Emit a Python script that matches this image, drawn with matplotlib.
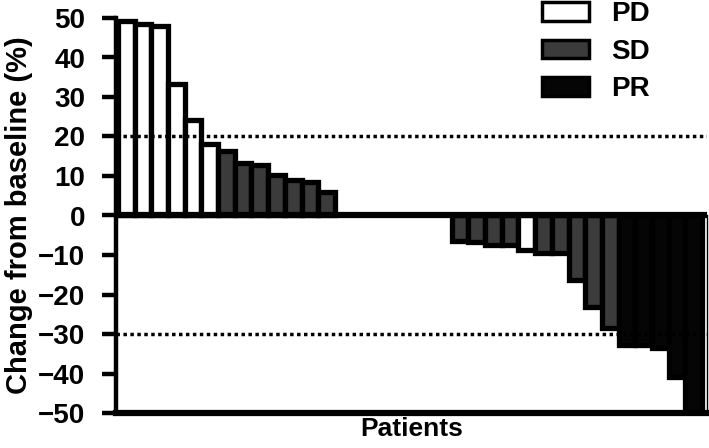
import numpy as np
import matplotlib
matplotlib.use('Agg')
import matplotlib.pyplot as plt
from matplotlib.patches import Patch

plt.rcParams['font.family'] = ['Liberation Sans', 'DejaVu Sans']
plt.rcParams['font.weight'] = 'bold'

# tumour change per patient
pos_values = [49.3, 48.5, 48.0, 33.4, 24.3, 18.2, 16.3, 13.3, 12.7, 10.2, 9.1, 8.5, 5.9]
pos_response = ['PD'] * 6 + ['SD'] * 7
neg_values = [-6.5, -6.6, -7.5, -7.4, -8.7, -9.6, -9.6, -16.3, -23.1, -28.5,
              -32.7, -32.7, -33.5, -40.8, -50.0]
neg_response = ['SD', 'SD', 'SD', 'SD', 'PD', 'SD', 'SD', 'SD', 'SD', 'SD',
                'PR', 'PR', 'PR', 'PR', 'PR']
empty_slots = 7
yticks = [50, 40, 30, 20, 10, 0, -10, -20, -30, -40, -50]
cut_pd, cut_pr = 20, -30

colors = {'PD': 'white', 'SD': '#3b3b3b', 'PR': '#050505'}

values = pos_values + neg_values
response = pos_response + neg_response
x = np.concatenate([np.arange(len(pos_values)),
                    np.arange(len(neg_values)) + len(pos_values) + empty_slots])

fig = plt.figure(figsize=(7.09, 4.48), dpi=100)
ax = fig.add_axes([116 / 709, 1 - 413 / 448, (707 - 116) / 709, (413 - 18) / 448])

ax.bar(x, values, width=1.0, color=[colors[r] for r in response],
       edgecolor='black', linewidth=3.8, zorder=2)

# threshold lines
ax.axhline(cut_pd, color='black', lw=2.5, linestyle=(0, (1, 1)), zorder=3)
ax.axhline(cut_pr, color='black', lw=2.5, linestyle=(0, (1, 1)), zorder=3)
ax.axhline(0, color='black', lw=4.5, zorder=4)

ax.set_ylim(-50, 50)
ax.set_xlim(-0.62, x[-1] + 0.8)
ax.set_yticks(yticks)
ax.set_xticks([])

ax.spines['top'].set_visible(False)
ax.spines['left'].set_linewidth(3.2)
ax.spines['bottom'].set_linewidth(4.5)
ax.spines['right'].set_linewidth(1)
ax.spines['right'].set_bounds(-50, 0)
ax.tick_params(axis='y', length=10, width=3.2, labelsize=20, pad=12)

ax.set_ylabel('Change from baseline (%)', fontsize=21, fontweight='bold', labelpad=4)
ax.set_xlabel('Patients', fontsize=19, fontweight='bold', labelpad=3)

handles = [Patch(facecolor=colors[k], edgecolor='black', linewidth=2.5, label=k)
           for k in ['PD', 'SD', 'PR']]
fig.legend(handles=handles, loc='upper left', bbox_to_anchor=(542 / 709, 1 - 1 / 448),
           frameon=False, fontsize=20, handlelength=1.7, handleheight=0.66,
           handletextpad=0.8, labelspacing=0.42, borderpad=0, borderaxespad=0)

plt.savefig('out.png', dpi=100)
